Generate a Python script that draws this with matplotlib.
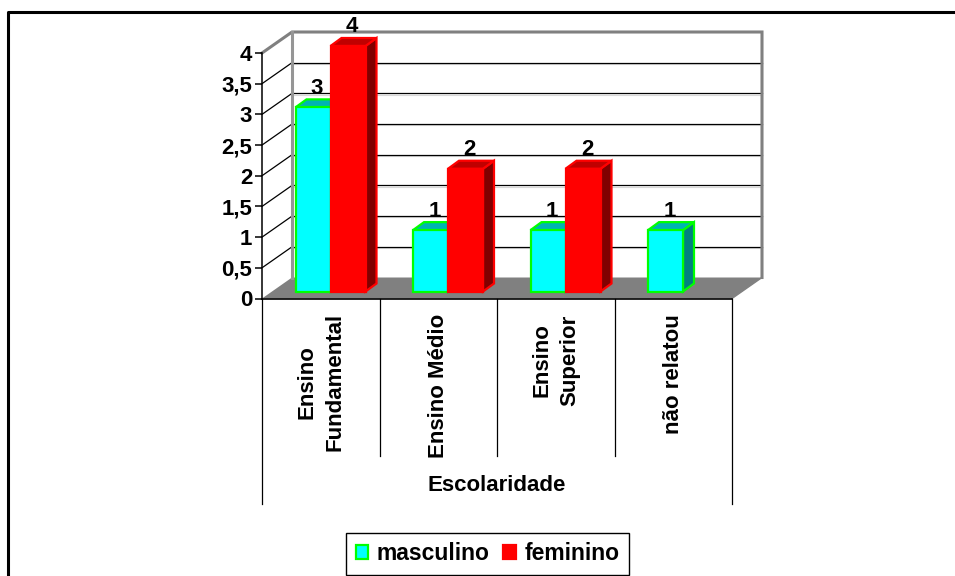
import matplotlib as mpl
mpl.use('Agg')
from matplotlib import pyplot as plt
from matplotlib.patches import Polygon, Patch
from matplotlib.lines import Line2D

plt.rcParams['font.family'] = ['Liberation Sans', 'DejaVu Sans']
plt.rcParams['font.weight'] = 'bold'

categories = ['Ensino\nFundamental', 'Ensino Médio', 'Ensino\nSuperior', 'não relatou']
masculino = [3, 1, 1, 1]
feminino = [4, 2, 2, 0]
yticks = [0, 0.5, 1, 1.5, 2, 2.5, 3, 3.5, 4]
ytick_labels = ['0', '0,5', '1', '1,5', '2', '2,5', '3', '3,5', '4']

W, H = 955, 576
# front plane of the fake 3d box, in pixels
left, right, y0, y4 = 262, 732, 298.5, 53

fig = plt.figure(figsize=(W / 100, H / 100), dpi=100)
ax = fig.add_axes([left / W, 1 - y0 / H, (right - left) / W, (y0 - y4) / H])
ax.set_xlim(0, 4)
ax.set_ylim(0, 4)
px = 4 / (right - left)
py = 4 / (y0 - y4)

# depth of the wall, offset of the bars and depth of the bars
wall_dx, wall_dy = 30 * px, 21 * py
off_dx, off_dy = 33.5 * px, 7 * py
bar_dx, bar_dy = 11 * px, 8 * py
bar_w = 35 * px


def poly(pts, color, edge=None, lw=0, z=3):
    ax.add_patch(Polygon(pts, closed=True, facecolor=color, edgecolor=edge or color,
                         linewidth=lw, zorder=z, clip_on=False, joinstyle='miter'))


def box(x, v, front, side, top, edge, z):
    x0 = x + off_dx
    x1 = x0 + bar_w
    b = off_dy
    t = v + off_dy
    poly([(x1, b), (x1 + bar_dx, b + bar_dy), (x1 + bar_dx, t + bar_dy), (x1, t)], side, edge, 1.6, z)
    poly([(x0, t), (x1, t), (x1 + bar_dx, t + bar_dy), (x0 + bar_dx, t + bar_dy)], top, edge, 1.6, z)
    ax.bar(x0, v, bar_w, bottom=b, align='edge', color=front, edgecolor=edge, linewidth=1.6,
           zorder=z + 0.5, clip_on=False)
    ax.text(x0 + (bar_w + bar_dx) / 2 - 1.5 * px, t + bar_dy + 11 * py, str(v), ha='center', va='center',
            fontsize=16, zorder=6, clip_on=False)


# floor and back wall
poly([(0, 0), (4, 0), (4 + wall_dx, wall_dy), (wall_dx, wall_dy)], '#808080', z=1)
for t in yticks:
    if 0 < t < 4:
        ax.plot([wall_dx, 4 + wall_dx], [t + wall_dy - 0.02, t + wall_dy - 0.02], color='#d8d8d8', lw=0.8, zorder=0.9, clip_on=False)
        ax.plot([wall_dx, 4 + wall_dx], [t + wall_dy, t + wall_dy], color='black', lw=0.9, zorder=1, clip_on=False)
        ax.plot([0, wall_dx], [t, t + wall_dy], color='black', lw=0.9, zorder=1, clip_on=False)
ax.plot([0, wall_dx, 4 + wall_dx, 4 + wall_dx], [4, 4 + wall_dy, 4 + wall_dy, wall_dy],
        color='#808080', lw=2.2, zorder=1.5, clip_on=False, solid_joinstyle='miter')
ax.plot([wall_dx, wall_dx], [wall_dy, 4 + wall_dy], color='#969696', lw=2.2, zorder=1.5, clip_on=False)
ax.plot([4, 4 + wall_dx], [0, wall_dy], color='#808080', lw=1, zorder=1.5, clip_on=False)

# bars and value labels
for i, (m, f) in enumerate(zip(masculino, feminino)):
    if m:
        box(i, m, '#00ffff', '#008080', '#00b3b3', '#00ff00', 3)
    if f:
        box(i + bar_w, f, '#ff0000', '#800000', '#c00000', '#ff0000', 4)

# axes
for s in ['top', 'right', 'bottom']:
    ax.spines[s].set_visible(False)
ax.patch.set_visible(False)
ax.spines['left'].set_linewidth(1.1)
ax.spines['left'].set_zorder(2)
ax.set_yticks(yticks)
ax.set_yticklabels(ytick_labels, fontsize=16)
ax.tick_params(axis='y', length=5, width=1.1, pad=2)
ax.set_xticks([])

# category table below the axis
sep_low = -157 * py
out_low = -205 * py
ax.plot([0, 4], [0, 0], color='black', lw=1.2, zorder=2, clip_on=False)
for x in range(5):
    low = out_low if x in (0, 4) else sep_low
    ax.plot([x, x], [0, low], color='black', lw=0.9, clip_on=False)
label_y = [-83.5, -87, -62, -75.5]
for i, c in enumerate(categories):
    ax.text(i + 0.5, label_y[i] * py, c, rotation=90, ha='center', va='center', fontsize=16,
            linespacing=1.45, clip_on=False, multialignment='center')
ax.text(2, -187 * py, 'Escolaridade', ha='center', va='center', fontsize=16, clip_on=False)

# legend
handles = [Patch(facecolor='#00ffff', edgecolor='#00ff00', linewidth=1.6, label='masculino'),
           Patch(facecolor='#ff0000', edgecolor='#ff0000', linewidth=1.6, label='feminino')]
fig.legend(handles=handles, ncol=2, loc='center', bbox_to_anchor=(487.5 / W, 1 - 554 / H),
           frameon=True, fancybox=False, framealpha=1, edgecolor='black', fontsize=16.5,
           handlelength=0.55, handleheight=0.55, handletextpad=0.36, columnspacing=0.6,
           borderpad=0.42, borderaxespad=0)

# frame round the chart, only left and top are in the picture
fig.add_artist(Line2D([7.5 / W, 7.5 / W, 1], [0, 1 - 11.5 / H, 1 - 11.5 / H],
                      color='black', lw=2.2))

fig.savefig('out.png', dpi=100)
